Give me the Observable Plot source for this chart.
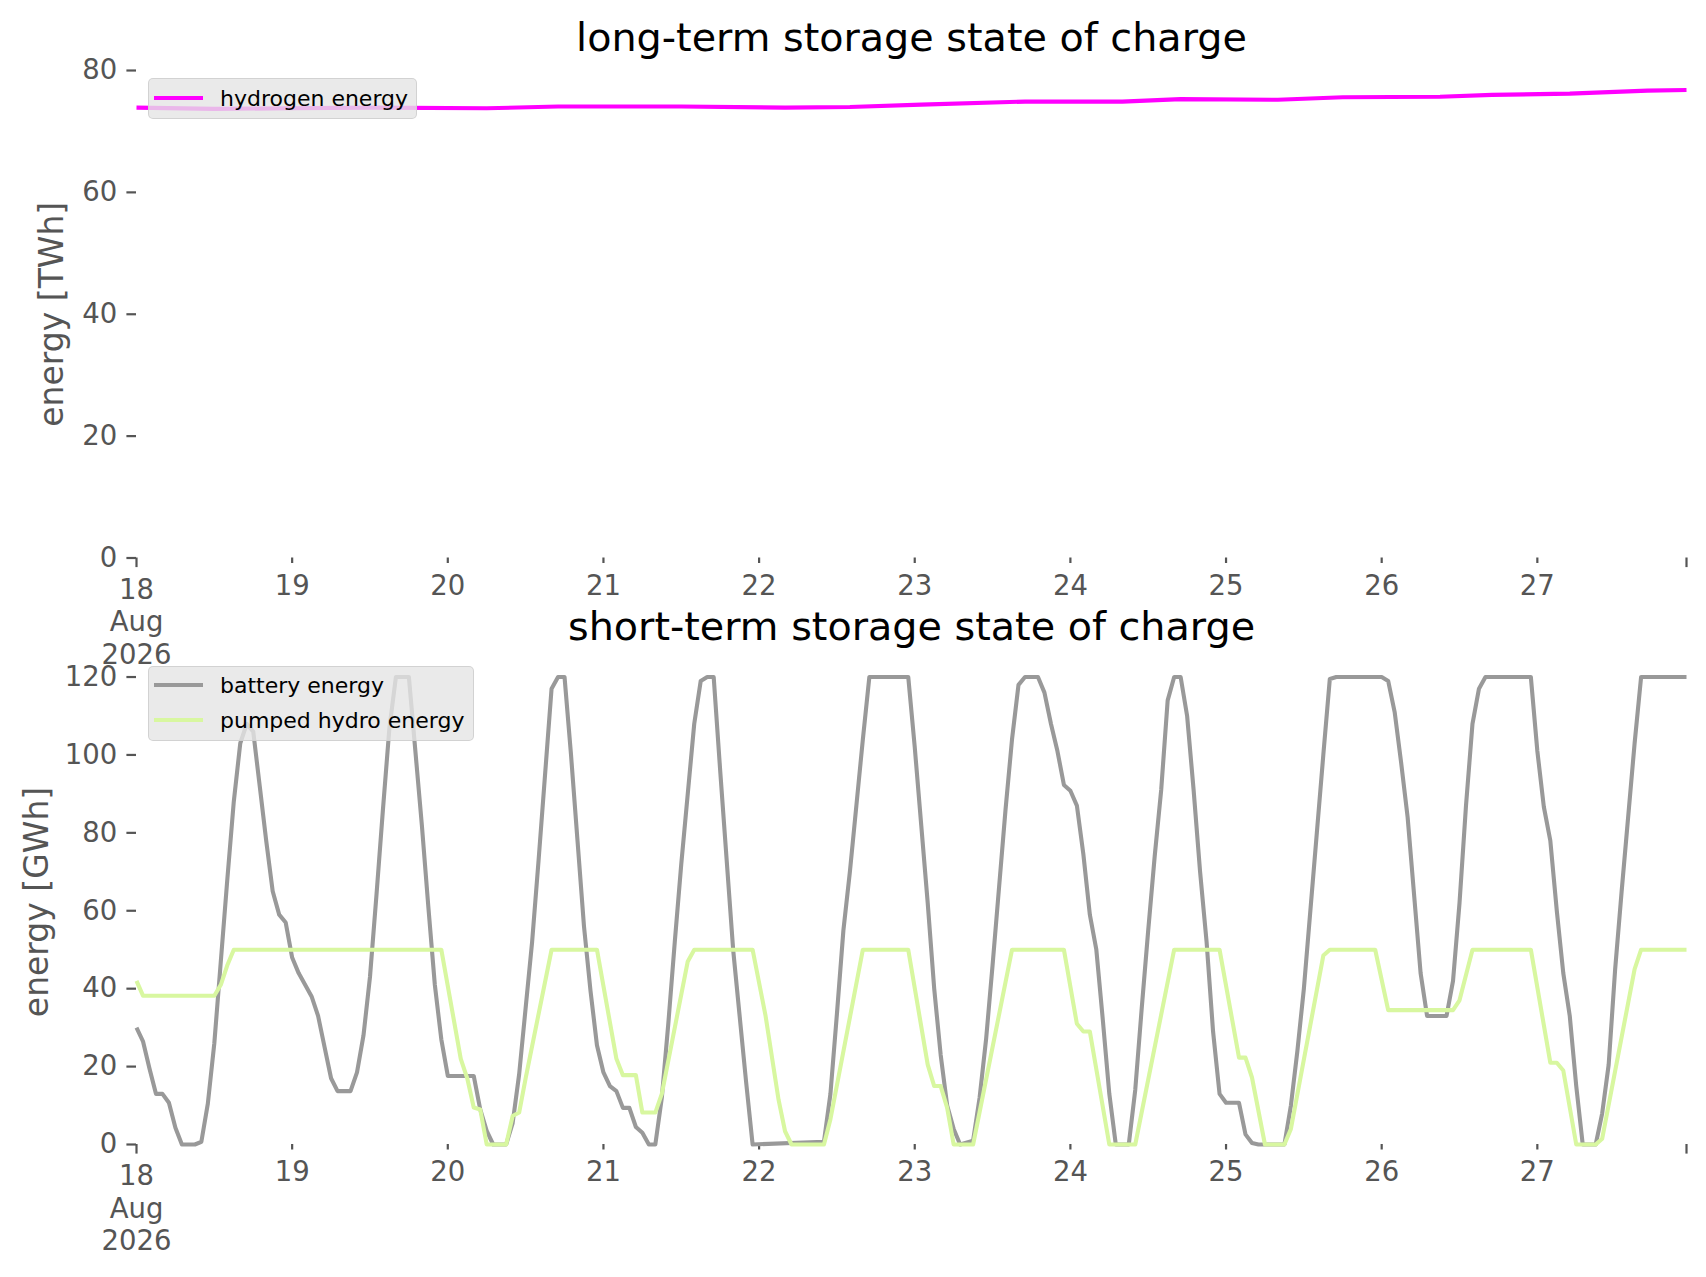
<!DOCTYPE html>
<html>
<head>
<meta charset="utf-8">
<script src="https://cdn.jsdelivr.net/npm/d3@7"></script>
<script src="https://cdn.jsdelivr.net/npm/@observablehq/plot@0.6"></script>
<style>
  html, body { margin: 0; padding: 0; background: #ffffff; overflow: hidden; }
  #figure { position: relative; width: 1706px; height: 1277px; overflow: hidden; font-family: "DejaVu Sans", sans-serif; }
  #figure > .panel { position: absolute; left: 0; }
  .legend { position: absolute; box-sizing: border-box; background: rgba(229,229,229,0.8); border: 1px solid rgba(204,204,204,0.8); border-radius: 5px; }
  .legend .row { position: absolute; left: 0; height: 0; display: flex; align-items: center; }
  .legend .swatch { margin-left: 5px; width: 49px; height: 4px; }
  .legend .label { margin-left: 17px; font-size: 22px; line-height: 22px; color: #000; white-space: nowrap; position: relative; top: 1px; }
</style>
</head>
<body>
<div id="figure"></div>
<script>
// ---------------- data (hours since 18 Aug 2026 00:00 UTC) ----------------
const startUTC = Date.UTC(2026, 7, 18);
const lastHour = 239;

const hydrogenHours = [0, 12, 24, 36, 54, 65, 84, 100, 110, 121, 137, 152, 161, 176, 186, 201, 209, 221, 233, 239];
const hydrogenTWh   = [73.9, 73.7, 73.8, 73.9, 73.8, 74.1, 74.1, 73.9, 74.0, 74.4, 74.9, 74.9, 75.3, 75.2, 75.6, 75.7, 76.0, 76.2, 76.7, 76.8];

const batteryHours = [0, 1, 2, 3, 4, 5, 6, 7, 9, 10, 11, 12, 13, 14, 15, 16, 17, 18, 19, 20,
  21, 22, 23, 24, 25, 26, 27, 28, 29, 30, 31, 33, 34, 35, 36, 37, 38, 39, 40, 42,
  43, 44, 45, 46, 47, 48, 52, 53, 54, 55, 57, 58, 59, 60, 61, 62, 63, 64, 65, 66,
  67, 68, 69, 70, 71, 72, 73, 74, 75, 76, 77, 78, 79, 80, 81, 82, 83, 84, 85, 86,
  87, 88, 89, 90, 91, 92, 93, 94, 95, 106, 107, 108, 109, 110, 111, 112, 113, 119, 120, 121,
  122, 123, 124, 125, 126, 127, 129, 130, 131, 132, 133, 134, 135, 136, 137, 139, 140, 141, 142, 143,
  144, 145, 146, 147, 148, 149, 150, 151, 153, 154, 155, 156, 157, 158, 159, 160, 161, 162, 163, 164,
  165, 166, 167, 168, 170, 171, 172, 173, 177, 178, 179, 180, 181, 182, 183, 184, 185, 192, 193, 194,
  195, 196, 197, 198, 199, 202, 203, 204, 205, 206, 207, 208, 215, 216, 217, 218, 219, 220, 221, 222,
  223, 225, 226, 227, 228, 229, 230, 231, 232, 239];
const batteryGWh = [30, 26.5, 19.5, 13, 13, 10.7, 4.3, 0, 0, 0.7, 10.5, 26, 47, 68, 88, 103, 108, 106, 92, 78,
  65, 59, 57, 48, 44, 41, 38, 33, 25, 17, 13.7, 13.7, 18.5, 28, 43, 64, 86, 107, 120, 120,
  101, 82, 61, 41, 27, 17.6, 17.6, 9, 3.5, 0, 0, 5.5, 18, 35, 52, 73, 95, 117, 120, 120,
  100, 78, 56, 39.5, 25.5, 18.5, 15, 13.7, 9.4, 9.4, 4.5, 3, 0, 0, 12, 31, 52, 72, 90, 108,
  119, 120, 120, 96, 73, 50, 33, 16, 0, 0.7, 13, 33.5, 55, 70, 87, 104, 120, 120, 102, 82,
  62, 40, 23, 10, 4, 0, 1, 12, 27, 46, 66, 86, 104, 118, 120, 120, 116, 108, 101, 92.3,
  90.8, 87, 74.5, 59, 50, 32, 13, 0, 0, 14, 35, 55, 74, 91, 114, 120, 120, 110, 91, 70,
  52, 29, 13, 10.7, 10.7, 2.6, 0.4, 0, 0, 10, 24, 40, 60, 80, 100, 119.5, 120, 120, 119, 111,
  98, 84, 64, 44, 33, 33, 42, 62, 87, 108, 117, 120, 120, 101, 86.7, 78, 60, 44, 33, 15,
  0, 0, 8, 20.5, 45, 65, 84, 103, 120, 120];

const pumpedHours = [0, 1, 12, 13, 14, 15, 47, 50, 51, 52, 53, 54, 57, 58, 59, 60, 64, 71, 74, 75,
  77, 78, 80, 81, 85, 86, 95, 97, 99, 100, 101, 106, 107, 112, 119, 122, 123, 124, 125, 126,
  129, 135, 143, 145, 146, 147, 150, 154, 160, 167, 170, 171, 172, 174, 177, 178, 183, 184, 191, 193,
  203, 204, 206, 215, 218, 219, 220, 222, 225, 226, 231, 232, 239];
const pumpedGWh = [42, 38.2, 38.2, 41, 46, 50, 50, 22, 17, 9.5, 9, 0, 0, 7.3, 8.2, 17, 50, 50, 22, 17.8,
  17.8, 8.2, 8.2, 13, 47, 50, 50, 33, 11.5, 3.4, 0, 0, 6.5, 50, 50, 20.5, 15, 15, 9.4, 0,
  0, 50, 50, 31, 29, 29, 0, 0, 50, 50, 22.3, 22.3, 17.2, 0, 0, 4, 48.5, 50, 50, 34.5,
  34.5, 37, 50, 50, 21, 21, 19, 0, 0, 1.5, 45, 50, 50];

// axis ticks
const minorTickDays   = [19, 20, 21, 22, 23, 24, 25, 26, 27];
const minorTickLabels = ["19", "20", "21", "22", "23", "24", "25", "26", "27"];
const majorTickHours  = [0, 239];
const majorTickLabels = ["18\nAug\n2026", ""];
const longTermTicks   = [0, 20, 40, 60, 80];
const shortTermTicks  = [0, 20, 40, 60, 80, 100, 120];

// series names & colours
const hydrogenName = "hydrogen energy", hydrogenColor = "#ff00ff";
const batteryName  = "battery energy",  batteryColor  = "#999999";
const pumpedName   = "pumped hydro energy", pumpedColor = "#d8f7a0";

// ---------------- helpers ----------------
const toDate = h => new Date(startUTC + h * 3600e3);
const series = (hours, values) => hours.map((h, i) => ({date: toDate(h), value: values[i]}));

const hydrogen = series(hydrogenHours, hydrogenTWh);
const battery  = series(batteryHours, batteryGWh);
const pumped   = series(pumpedHours, pumpedGWh);

const minorTickDates = minorTickDays.map(d => toDate((d - 18) * 24));
const majorTickDates = majorTickHours.map(toDate);
const labelByTime = new Map([
  ...minorTickDates.map((d, i) => [+d, minorTickLabels[i]]),
  ...majorTickDates.map((d, i) => [+d, majorTickLabels[i]])
]);

const W = 1706, ML = 136, MR = W - 1686;
const TICK_FONT = 27.5, GREY = "#555555";
const xDomain = [toDate(0), toDate(lastHour)];

function xAxes() {
  return [
    Plot.axisX(minorTickDates, {anchor: "bottom", tickSize: 5.5, tickPadding: 11.7, fontSize: TICK_FONT,
      color: GREY, strokeWidth: 2.2, lineHeight: 1, label: null, tickFormat: d => labelByTime.get(+d)}),
    Plot.axisX(majorTickDates, {anchor: "bottom", tickSize: 9.6, tickPadding: 7.7, fontSize: TICK_FONT,
      color: GREY, strokeWidth: 2.2, lineHeight: 1.19, label: null, tickFormat: d => labelByTime.get(+d)})
  ];
}

function panel({height, marginTop, marginBottom, yDomain, yTicks, title, titleDy, ylabel, ylabelDx, lines}) {
  return Plot.plot({
    width: W, height, marginLeft: ML, marginRight: MR, marginTop, marginBottom,
    style: {fontFamily: "DejaVu Sans, sans-serif", background: "transparent", overflow: "visible"},
    x: {type: "utc", domain: xDomain},
    y: {domain: yDomain},
    marks: [
      Plot.axisY(yTicks, {anchor: "left", tickSize: 9.6, tickPadding: 9.6, fontSize: TICK_FONT,
        color: GREY, strokeWidth: 2.2, label: null, tickFormat: d => String(d)}),
      ...xAxes(),
      ...lines.map(l => Plot.line(l.data, {x: "date", y: "value", stroke: l.color, strokeWidth: 4.1,
        strokeLinejoin: "round", strokeLinecap: "butt"})),
      Plot.text([title], {frameAnchor: "top", lineAnchor: "bottom", dy: titleDy, fontSize: 39.7, fill: "#000000"}),
      Plot.text([ylabel], {frameAnchor: "left", rotate: -90, dx: ylabelDx, textAnchor: "middle", lineAnchor: "middle",
        fontSize: 33, fill: GREY})
    ]
  });
}

function legend(entries, {left, top, width, height, rowCenters}) {
  const box = document.createElement("div");
  box.className = "legend";
  Object.assign(box.style, {left: left + "px", top: top + "px", width: width + "px", height: height + "px"});
  entries.forEach((e, i) => {
    const row = document.createElement("div");
    row.className = "row";
    row.style.top = rowCenters[i] + "px";
    const sw = document.createElement("div");
    sw.className = "swatch";
    sw.style.background = e.color;
    const lab = document.createElement("span");
    lab.className = "label";
    lab.textContent = e.name;
    row.append(sw, lab);
    box.append(row);
  });
  return box;
}

// ---------------- build figure ----------------
const fig = document.getElementById("figure");

const top1 = panel({
  height: 640, marginTop: 70, marginBottom: 82.5,
  yDomain: [0, 80], yTicks: longTermTicks,
  title: "long-term storage state of charge", titleDy: -20,
  ylabel: "energy [TWh]", ylabelDx: -84,
  lines: [{data: hydrogen, color: hydrogenColor}]
});
top1.classList.add("panel");
top1.style.top = "0px";
fig.append(top1);

const bot = panel({
  height: 677, marginTop: 59, marginBottom: 133,
  yDomain: [0, 124.5], yTicks: shortTermTicks,
  title: "short-term storage state of charge", titleDy: -20,
  ylabel: "energy [GWh]", ylabelDx: -99,
  lines: [{data: battery, color: batteryColor}, {data: pumped, color: pumpedColor}]
});
bot.classList.add("panel");
bot.style.top = "600px";
fig.append(bot);

fig.append(legend([{name: hydrogenName, color: hydrogenColor}],
  {left: 148, top: 78, width: 269, height: 41, rowCenters: [18.5]}));
fig.append(legend([{name: batteryName, color: batteryColor}, {name: pumpedName, color: pumpedColor}],
  {left: 148, top: 666, width: 326, height: 75, rowCenters: [17.5, 52.5]}));
</script>
</body>
</html>
